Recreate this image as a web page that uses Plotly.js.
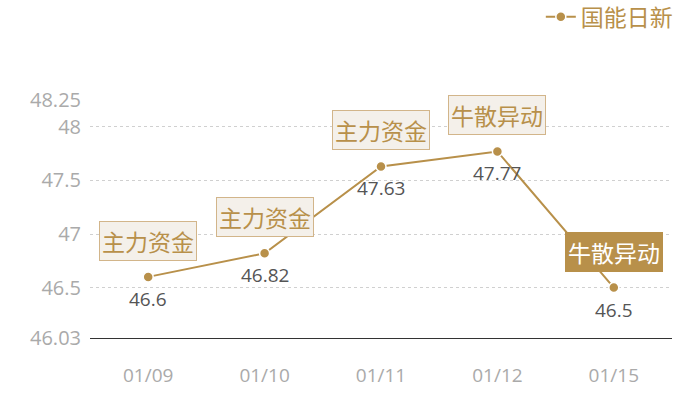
<!DOCTYPE html>
<html>
<head>
<meta charset="utf-8">
<script src="https://cdn.plot.ly/plotly-3.0.1.min.js"></script>
<style>
  html, body { margin: 0; padding: 0; background: #fff; }
  #chart { width: 700px; height: 400px; }
</style>
</head>
<body>
<div id="chart"></div>
<script>
// values
const dates = ['01/09', '01/10', '01/11', '01/12', '01/15'];
const prices = [46.6, 46.82, 47.63, 47.77, 46.5];
const tags = ['主力资金', '主力资金', '主力资金', '牛散异动', '牛散异动'];
const yTicks = [46.03, 46.5, 47, 47.5, 48, 48.25];
const seriesName = '国能日新';

const gold = '#b8904a';
const font = '"Open Sans", "Noto Sans CJK SC", sans-serif';
const cjk = '"Noto Sans CJK SC", sans-serif';

const trace = {
    x: dates,
    y: prices,
    type: 'scatter',
    mode: 'lines+markers',
    name: seriesName,
    line: { color: gold, width: 2 },
    marker: { size: 10, color: gold, line: { color: '#fff', width: 1.5 } },
    cliponaxis: false
};

// tag boxes above each point; the last one is highlighted (filled)
const tagNotes = dates.map((d, i) => {
    const last = i === dates.length - 1;
    return {
        x: d,
        y: prices[i],
        xref: 'x',
        yref: 'y',
        text: tags[i],
        showarrow: false,
        yanchor: 'bottom',
        yshift: 16,
        font: { size: 23, color: last ? '#fff' : gold, family: cjk },
        bgcolor: last ? gold : '#f4f0ea',
        bordercolor: last ? gold : '#d2b58a',
        borderwidth: 1,
        borderpad: 2
    };
});

// value labels under each point
const valueNotes = dates.map((d, i) => ({
    x: d,
    y: prices[i],
    xref: 'x',
    yref: 'y',
    text: String(prices[i]),
    showarrow: false,
    yanchor: 'top',
    yshift: -7,
    font: { size: 19, color: '#555', family: font }
}));

const layout = {
    width: 700,
    height: 400,
    margin: { l: 90, r: 28, t: 100, b: 62, autoexpand: false },
    paper_bgcolor: '#fff',
    plot_bgcolor: '#fff',
    showlegend: true,
    legend: {
        orientation: 'h',
        x: 1.01,
        xanchor: 'right',
        y: 1.44,
        yanchor: 'top',
        font: { size: 23, color: gold, family: cjk },
        itemwidth: 30
    },
    xaxis: {
        type: 'category',
        range: [-0.5, 4.5],
        showgrid: false,
        showline: true,
        linecolor: '#333',
        linewidth: 1,
        zeroline: false,
        ticks: '',
        tickfont: { size: 19, color: '#aaa', family: font },
        ticklabelstandoff: 20
    },
    yaxis: {
        range: [46.03, 48.25],
        tickvals: yTicks,
        ticktext: yTicks.map(String),
        showgrid: true,
        gridcolor: '#d0d0d0',
        griddash: 'dot',
        gridwidth: 1,
        zeroline: false,
        showline: false,
        ticks: '',
        ticklabelstandoff: 8,
        tickfont: { size: 20, color: '#aaa', family: font }
    },
    annotations: valueNotes.concat(tagNotes)
};

Plotly.newPlot('chart', [trace], layout, { displayModeBar: false, staticPlot: true });
</script>
</body>
</html>
